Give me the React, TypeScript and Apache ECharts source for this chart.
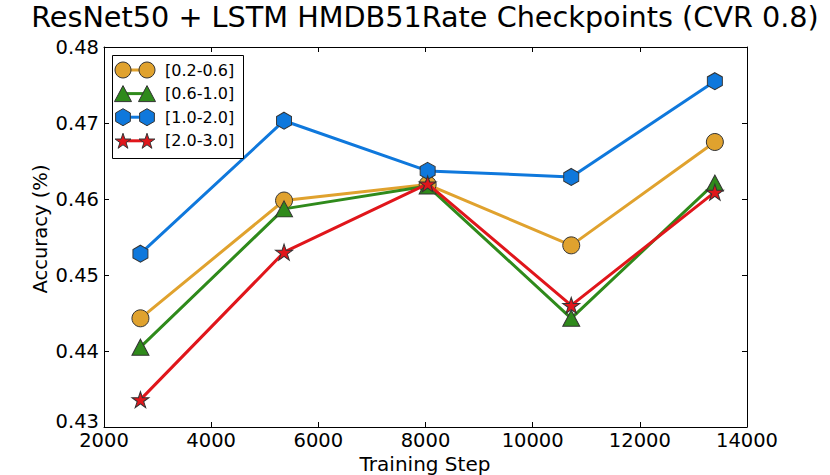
import React, { useEffect, useRef } from "react";
import * as echarts from "echarts";

const steps = [2680, 5360, 8040, 10720, 13400];
const rate02to06 = [0.4443, 0.4598, 0.4619, 0.4539, 0.4675];
const rate06to10 = [0.4405, 0.4587, 0.4617, 0.4443, 0.4621];
const rate10to20 = [0.4528, 0.4703, 0.4637, 0.4629, 0.4755];
const rate20to30 = [0.4336, 0.4530, 0.4620, 0.4460, 0.4609];

const seriesNames = ["[0.2-0.6]", "[0.6-1.0]", "[1.0-2.0]", "[2.0-3.0]"];
const seriesColors = ["#E0A22E", "#2F8A1B", "#0F78DC", "#E0161B"];
const titleText = "ResNet50 + LSTM HMDB51Rate Checkpoints (CVR 0.8)";
const xAxisTitle = "Training Step";
const yAxisTitle = "Accuracy (%)";

const FONT = "DejaVu Sans";
const EDGE = "#333333";

const HEX_PATH = "path://M866,0 L1732,500 L1732,1500 L866,2000 L0,1500 L0,500 Z";
const STAR_PATH =
  "path://M1000,0 L1224.5,691 L1951.1,691 L1363.3,1118 L1587.8,1809 L1000,1382 L412.2,1809 L636.7,1118 L48.9,691 L775.5,691 Z";

function polyPoints(cx: number, cy: number, n: number, rOuter: number, rInner: number | null, startDeg: number) {
  const pts: number[][] = [];
  const count = rInner === null ? n : n * 2;
  for (let i = 0; i < count; i++) {
    const r = rInner === null || i % 2 === 0 ? rOuter : rInner;
    const a = ((startDeg + (360 / count) * i) * Math.PI) / 180;
    pts.push([cx + r * Math.cos(a), cy + r * Math.sin(a)]);
  }
  return pts;
}

function legendMarker(kind: number, cx: number, cy: number, color: string) {
  const style = { fill: color, stroke: EDGE, lineWidth: 1 };
  if (kind === 0) return { type: "circle", shape: { cx, cy, r: 8 }, style, z: 101 };
  if (kind === 1)
    return {
      type: "polygon",
      shape: { points: [[cx - 8.5, cy + 8], [cx + 8.5, cy + 8], [cx, cy - 8]] },
      style,
      z: 101,
    };
  if (kind === 2) return { type: "polygon", shape: { points: polyPoints(cx, cy, 6, 8.5, null, -90) }, style, z: 101 };
  return { type: "polygon", shape: { points: polyPoints(cx, cy + 0.8, 5, 8.3, 3.2, -90) }, style, z: 101 };
}

export default function App() {
  const ref = useRef<HTMLDivElement>(null);
  useEffect(() => {
    if (!ref.current) return;
    const chart = echarts.init(ref.current, undefined, { renderer: "svg" });
    const allValues = [rate02to06, rate06to10, rate10to20, rate20to30];
    const symbols = ["circle", "triangle", HEX_PATH, STAR_PATH];
    const sizes: any[] = [17, [17, 16], [15, 17], [17, 16]];

    const series = allValues.map((vals, i) => ({
      name: seriesNames[i],
      type: "line",
      data: steps.map((s, j) => [s, vals[j]]),
      symbol: symbols[i],
      symbolSize: sizes[i],
      showSymbol: true,
      lineStyle: { color: seriesColors[i], width: 3 },
      itemStyle: { color: seriesColors[i], borderColor: EDGE, borderWidth: 1 },
      emphasis: { disabled: true },
      z: 2 + i,
    }));

    const legendLeft = 112;
    const legendTop = 55;
    const rowGap = 23.6;
    const legendEls: any[] = [
      {
        type: "rect",
        shape: { x: legendLeft + 0.5, y: legendTop + 0.5, width: 131, height: 103 },
        style: { fill: "#ffffff", stroke: "#000000", lineWidth: 1 },
        z: 100,
      },
    ];
    seriesNames.forEach((name, i) => {
      const cy = legendTop + 15 + rowGap * i;
      legendEls.push({
        type: "line",
        shape: { x1: 123, y1: cy, x2: 147, y2: cy },
        style: { stroke: seriesColors[i], lineWidth: 3 },
        z: 100,
      });
      legendEls.push(legendMarker(i, 123, cy, seriesColors[i]));
      legendEls.push(legendMarker(i, 147, cy, seriesColors[i]));
      legendEls.push({
        type: "text",
        x: 165,
        y: cy,
        style: { text: name, font: `16px "${FONT}"`, fill: "#000000", textVerticalAlign: "middle", textAlign: "left" },
        z: 101,
      });
    });

    const axisCommon = {
      axisLine: { show: true, lineStyle: { color: "#000000", width: 1 } },
      axisTick: { show: true, inside: true, length: 5, lineStyle: { color: "#000000", width: 1 } },
      splitLine: { show: false },
    };

    const yMin = 0.43;

    chart.setOption({
      animation: false,
      grid: { left: 104, right: 83, top: 47, bottom: 48, containLabel: false },
      xAxis: [
        {
          type: "value",
          min: 2000,
          max: 14000,
          interval: 2000,
          position: "bottom",
          ...axisCommon,
          axisLabel: {
            show: true,
            margin: 6,
            lineHeight: 14,
            color: "#000000",
            fontFamily: FONT,
            fontSize: 19.5,
            formatter: (v: number) => String(v),
          },
        },
        {
          type: "value",
          min: 2000,
          max: 14000,
          interval: 2000,
          position: "top",
          ...axisCommon,
          axisLabel: { show: false },
        },
      ],
      yAxis: [
        {
          type: "value",
          min: yMin,
          max: 0.48,
          interval: 0.01,
          position: "left",
          ...axisCommon,
          axisLabel: {
            show: true,
            margin: 5,
            lineHeight: 10,
            color: "#000000",
            fontFamily: FONT,
            fontSize: 19.5,
            formatter: (v: number) => (Math.abs(v - yMin) < 1e-6 ? `{lo|${v.toFixed(2)}}` : v.toFixed(2)),
            rich: {
              lo: {
                color: "#000000",
                fontFamily: FONT,
                fontSize: 19.5,
                lineHeight: 10,
                padding: [0, 0, 12, 0],
              },
            },
          },
        },
        {
          type: "value",
          min: yMin,
          max: 0.48,
          interval: 0.01,
          position: "right",
          ...axisCommon,
          axisLabel: { show: false },
        },
      ],
      series,
      graphic: [
        {
          type: "text",
          x: 425,
          y: 17,
          style: {
            text: titleText,
            font: `28.7px "${FONT}"`,
            fill: "#000000",
            textAlign: "center",
            textVerticalAlign: "middle",
          },
        },
        {
          type: "text",
          x: 425,
          y: 464,
          style: {
            text: xAxisTitle,
            font: `20px "${FONT}"`,
            fill: "#000000",
            textAlign: "center",
            textVerticalAlign: "middle",
          },
        },
        {
          type: "text",
          x: 40,
          y: 229,
          rotation: Math.PI / 2,
          style: {
            text: yAxisTitle,
            font: `19.5px "${FONT}"`,
            fill: "#000000",
            textAlign: "center",
            textVerticalAlign: "middle",
          },
        },
        ...legendEls,
      ],
    });
    return () => chart.dispose();
  }, []);
  return <div ref={ref} style={{ position: "fixed", left: 0, top: 0, width: 830, height: 475, background: "#ffffff" }} />;
}
